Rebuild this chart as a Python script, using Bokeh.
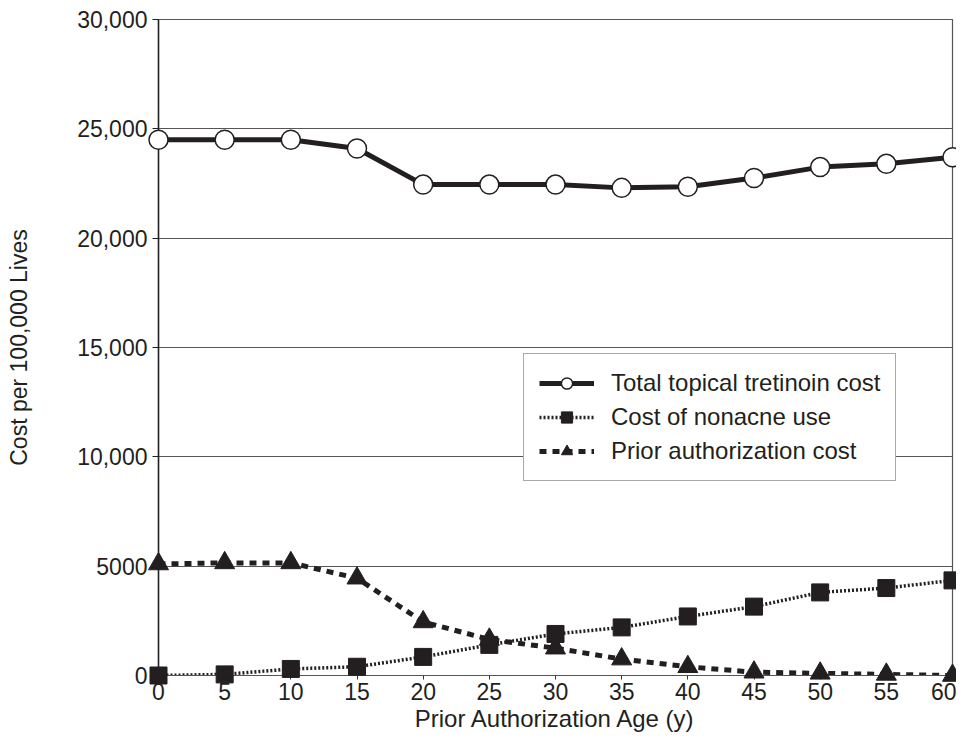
from bokeh.plotting import figure
from bokeh.models import Range1d, FixedTicker, Legend, LegendItem
from bokeh.embed import file_html
from bokeh.resources import INLINE

ages = [0, 5, 10, 15, 20, 25, 30, 35, 40, 45, 50, 55, 60]
total_cost = [24500, 24500, 24500, 24100, 22450, 22450, 22450, 22300, 22350, 22750, 23250, 23400, 23700]
nonacne_cost = [0, 50, 300, 400, 850, 1400, 1900, 2200, 2700, 3150, 3800, 4000, 4350]
pa_cost = [5100, 5150, 5150, 4450, 2450, 1650, 1250, 750, 400, 150, 100, 50, 0]
y_ticks = [0, 5000, 10000, 15000, 20000, 25000, 30000]
y_tick_labels = ["0", "5000", "10,000", "15,000", "20,000", "25,000", "30,000"]
x_ticks = ages
series_names = ["Total topical tretinoin cost", "Cost of nonacne use", "Prior authorization cost"]

FONT = "Liberation Sans"
FS = "23px"
TXT = "#231f20"

p = figure(width=956, height=745, output_backend="svg", toolbar_location=None,
           x_range=Range1d(0, 60), y_range=Range1d(0, 30000),
           min_border_left=158, min_border_right=4, min_border_top=19, min_border_bottom=70)
p.outline_line_color = "#555555"
p.outline_line_width = 1.2

p.xgrid.grid_line_color = None
p.ygrid.grid_line_color = "#555555"
p.ygrid.grid_line_width = 1.2
p.ygrid.ticker = FixedTicker(ticks=y_ticks)

p.yaxis.ticker = FixedTicker(ticks=y_ticks)
p.yaxis.major_label_overrides = {t: l for t, l in zip(y_ticks, y_tick_labels)}
p.yaxis.axis_line_color = "#222222"
p.yaxis.axis_line_width = 1.5
p.yaxis.major_tick_line_color = "#222222"
p.yaxis.major_tick_out = 6
p.yaxis.major_tick_in = 0
p.yaxis.minor_tick_line_color = None
p.yaxis.major_label_text_font = FONT
p.yaxis.major_label_text_font_size = FS
p.yaxis.major_label_text_color = TXT
p.yaxis.major_label_standoff = 5
p.yaxis.axis_label = "Cost per 100,000 Lives"
p.yaxis.axis_label_text_font = FONT
p.yaxis.axis_label_text_font_size = "23px"
p.yaxis.axis_label_text_font_style = "normal"
p.yaxis.axis_label_text_color = TXT
p.yaxis.axis_label_standoff = 42

p.xaxis.ticker = FixedTicker(ticks=x_ticks)
p.xaxis.axis_line_color = "#555555"
p.xaxis.axis_line_width = 1.2
p.xaxis.major_tick_line_color = "#333333"
p.xaxis.major_tick_out = 4
p.xaxis.major_tick_in = 0
p.xaxis.minor_tick_line_color = None
p.xaxis.major_label_text_font = FONT
p.xaxis.major_label_text_font_size = FS
p.xaxis.major_label_text_color = TXT
p.xaxis.major_label_standoff = 3
p.xaxis.axis_label = "Prior Authorization Age (y)"
p.xaxis.axis_label_text_font = FONT
p.xaxis.axis_label_text_font_size = "24px"
p.xaxis.axis_label_text_font_style = "normal"
p.xaxis.axis_label_text_color = TXT
p.xaxis.axis_label_standoff = 2

DARK = "#231f20"

l1 = p.line(ages, total_cost, line_color=DARK, line_width=5)
m1 = p.scatter(ages, total_cost, marker="circle", size=19, fill_color="white", line_color=DARK, line_width=1.5)

l2 = p.line(ages, nonacne_cost, line_color=DARK, line_width=3.5, line_dash="2 2")
m2 = p.scatter(ages, nonacne_cost, marker="square", size=17, fill_color=DARK, line_color=DARK)

l3 = p.line(ages, pa_cost, line_color=DARK, line_width=5, line_dash="7 6")
m3 = p.scatter(ages, pa_cost, marker="triangle", size=20, fill_color=DARK, line_color=DARK)

for r in (m1, m2, m3):
    r.level = "overlay"

legend = Legend(items=[
    LegendItem(label=series_names[0], renderers=[l1, m1]),
    LegendItem(label=series_names[1], renderers=[l2, m2]),
    LegendItem(label=series_names[2], renderers=[l3, m3]),
], location=(365, 194))
legend.label_text_font = FONT
legend.label_text_font_size = "24px"
legend.label_text_color = TXT
legend.border_line_color = "#555555"
legend.border_line_width = 1.2
legend.background_fill_color = "white"
legend.background_fill_alpha = 1.0
legend.glyph_width = 55
legend.glyph_height = 28
legend.label_height = 28
legend.spacing = 6
legend.padding = 15
legend.margin = 0
legend.label_standoff = 17
p.add_layout(legend, "center")

open("out.html", "w").write(file_html(p, INLINE))
